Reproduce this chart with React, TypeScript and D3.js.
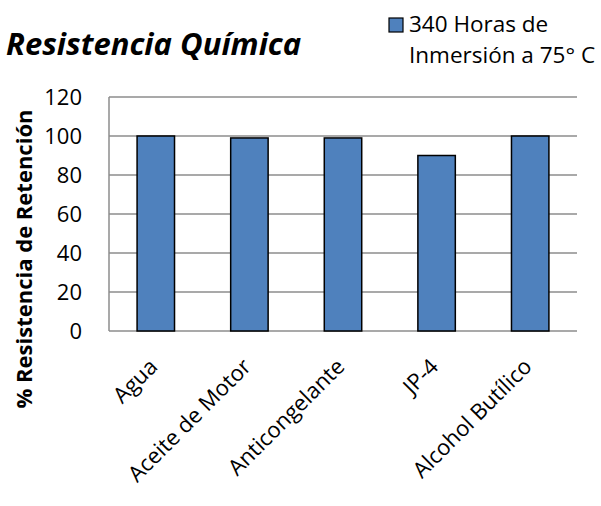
import { useEffect, useRef } from "react";
import * as d3 from "d3";

const CATEGORIES = ["Agua", "Aceite de Motor", "Anticongelante", "JP-4", "Alcohol Butílico"];
const RETENTION = [100, 99, 99, 90, 100];
const Y_TICKS = [0, 20, 40, 60, 80, 100, 120];
const SERIES_LABEL = ["340 Horas de", "Inmersión a 75° C"];

const FONT = "'Open Sans', sans-serif";

export default function App() {
  const ref = useRef<SVGSVGElement>(null);

  useEffect(() => {
    const el = ref.current;
    if (!el) return;
    const W = 601, H = 506;
    const M = { top: 97, right: 24, bottom: 175, left: 109 };
    const svg = d3.select(el).attr("width", W).attr("height", H).attr("viewBox", `0 0 ${W} ${H}`);
    svg.selectAll("*").remove();

    const x = d3.scaleBand<string>().domain(CATEGORIES).range([M.left, W - M.right]).paddingInner(0.6).paddingOuter(0.3);
    const y = d3.scaleLinear().domain([0, 120]).range([H - M.bottom, M.top]);

    // gridlines + left axis line
    svg.append("g").selectAll("line").data(Y_TICKS).join("line")
      .attr("x1", M.left).attr("x2", W - M.right)
      .attr("y1", (d) => y(d)).attr("y2", (d) => y(d))
      .attr("stroke", "#8c8c8c").attr("stroke-width", 1.5);
    svg.append("line").attr("x1", M.left).attr("x2", M.left).attr("y1", y(120)).attr("y2", y(0))
      .attr("stroke", "#8c8c8c").attr("stroke-width", 1.5);

    svg.append("g").selectAll("rect").data(RETENTION).join("rect")
      .attr("x", (_, i) => x(CATEGORIES[i]) ?? 0).attr("width", x.bandwidth())
      .attr("y", (d) => y(d)).attr("height", (d) => y(0) - y(d))
      .attr("fill", "#4f81bd").attr("stroke", "#000").attr("stroke-width", 1.5);

    // y tick labels
    svg.append("g").selectAll("text").data(Y_TICKS).join("text")
      .attr("x", M.left - 27).attr("y", (d) => y(d) + 8).attr("text-anchor", "end")
      .attr("font-family", FONT).attr("font-size", 22).attr("fill", "#000").text((d) => d);

    // x labels, rotated
    svg.append("g").selectAll("text").data(CATEGORIES).join("text")
      .attr("transform", (d) => `translate(${(x(d) ?? 0) + x.bandwidth() / 2 + 3},${y(0) + 37}) rotate(-45)`)
      .attr("text-anchor", "end").attr("font-family", FONT).attr("font-size", 22).attr("fill", "#000").text((d) => d);

    // axis title
    svg.append("text")
      .attr("transform", `translate(32,259) rotate(-90)`)
      .attr("text-anchor", "middle").attr("font-family", FONT).attr("font-size", 22).attr("font-weight", "bold")
      .text("% Resistencia de Retención");

    // title
    svg.append("text").attr("x", 6).attr("y", 55)
      .attr("font-family", FONT).attr("font-size", 31).attr("font-weight", "bold").attr("font-style", "italic")
      .text("Resistencia Química");

    // legend
    svg.append("rect").attr("x", 389).attr("y", 18).attr("width", 14).attr("height", 14)
      .attr("fill", "#4f81bd").attr("stroke", "#000").attr("stroke-width", 1.2);
    svg.append("g").selectAll("text").data(SERIES_LABEL).join("text")
      .attr("x", 409).attr("y", (_, i) => 32 + i * 31)
      .attr("font-family", FONT).attr("font-size", 22.5).attr("fill", "#000").text((d) => d);
  }, []);

  return <svg ref={ref} style={{ position: "absolute", left: 0, top: 0, display: "block" }} />;
}
